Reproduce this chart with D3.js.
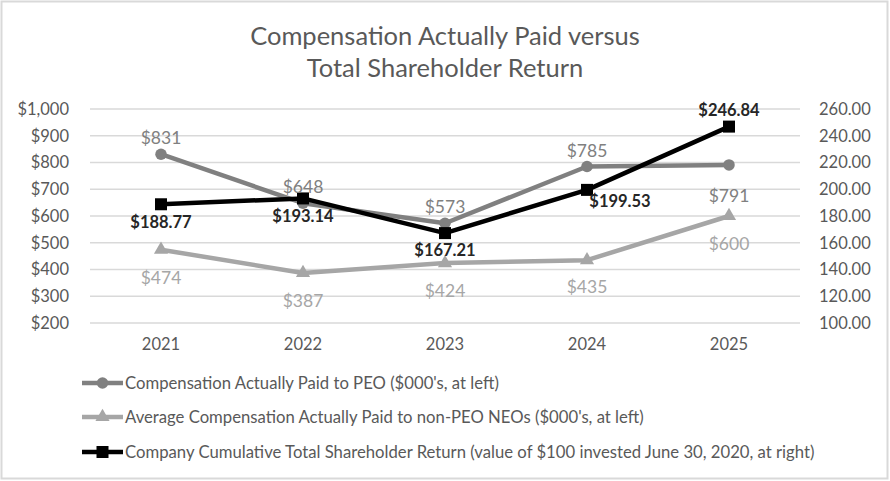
<!DOCTYPE html>
<html>
<head>
<meta charset="utf-8">
<script src="https://cdn.jsdelivr.net/npm/d3@7"></script>
<style>
  body { margin: 0; background: #fff; }
  svg text { font-family: Lato, "Open Sans", sans-serif; }
</style>
</head>
<body>
<svg id="chart" width="890" height="481"></svg>
<script>
// Chart data
const years = ["2021", "2022", "2023", "2024", "2025"];
const peoPay = [831, 648, 573, 785, 791];          // $000's, left axis
const neoPay = [474, 387, 424, 435, 600];          // $000's, left axis
const tsr = [188.77, 193.14, 167.21, 199.53, 246.84]; // right axis
const leftTicks = [200, 300, 400, 500, 600, 700, 800, 900, 1000];
const rightTicks = [100, 120, 140, 160, 180, 200, 220, 240, 260];
const legendNames = [
  "Compensation Actually Paid to PEO ($000's, at left)",
  "Average Compensation Actually Paid to non-PEO NEOs ($000's, at left)",
  "Company Cumulative Total Shareholder Return (value of $100 invested June 30, 2020, at right)"
];

const svg = d3.select('#chart');
const W = 890, H = 481;
const plot = { left: 90, right: 800, top: 109, bottom: 323 };
const FONT = 'Lato, "Open Sans", sans-serif';

// outer frame
svg.append('rect')
    .attr('x', 1.5).attr('y', 1.5)
    .attr('width', W - 4).attr('height', H - 4)
    .attr('fill', 'none')
    .attr('stroke', '#d9d9d9')
    .attr('stroke-width', 2);

// title
svg.append('text')
    .attr('x', 445).attr('y', 45)
    .attr('text-anchor', 'middle')
    .attr('font-size', 25.5)
    .attr('fill', '#595959')
    .selectAll('tspan')
    .data(["Compensation Actually Paid versus", "Total Shareholder Return"])
    .join('tspan')
    .attr('x', 445)
    .attr('dy', (d, i) => i === 0 ? 0 : 32)
    .text(d => d);

const x = d3.scaleBand().domain(years).range([plot.left, plot.right]);
const cx = d => x(d) + x.bandwidth() / 2;
const yL = d3.scaleLinear().domain([200, 1000]).range([plot.bottom, plot.top]);
const yR = d3.scaleLinear().domain([100, 260]).range([plot.bottom, plot.top]);

// gridlines
svg.append('g')
    .selectAll('line')
    .data(leftTicks)
    .join('line')
    .attr('x1', plot.left).attr('x2', plot.right)
    .attr('y1', d => yL(d)).attr('y2', d => yL(d))
    .attr('stroke', '#d9d9d9')
    .attr('stroke-width', 1.5);

// left axis
const leftAxis = svg.append('g')
    .attr('transform', `translate(${plot.left - 21},0)`)
    .call(d3.axisLeft(yL).tickValues(leftTicks).tickSize(0).tickPadding(0)
        .tickFormat(d => '$' + d3.format(',')(d)));
leftAxis.select('.domain').remove();
leftAxis.selectAll('text').attr('font-size', 16.5).attr('fill', '#595959')
    .style('font-family', FONT);

// right axis
const rightAxis = svg.append('g')
    .attr('transform', `translate(${plot.right + 19},0)`)
    .call(d3.axisRight(yR).tickValues(rightTicks).tickSize(0).tickPadding(0)
        .tickFormat(d3.format('.2f')));
rightAxis.select('.domain').remove();
rightAxis.selectAll('text').attr('font-size', 16.5).attr('fill', '#595959')
    .style('font-family', FONT);

// bottom axis
const bottomAxis = svg.append('g')
    .attr('transform', `translate(0,${plot.bottom + 9})`)
    .call(d3.axisBottom(x).tickSize(0).tickPadding(6));
bottomAxis.select('.domain').remove();
bottomAxis.selectAll('text').attr('font-size', 16.5).attr('fill', '#595959')
    .style('font-family', FONT);

const series = [
  { name: legendNames[0], values: peoPay, y: yL, color: '#808080', marker: 'circle',
    labels: peoPay.map(v => '$' + v), bold: false, labelColor: '#808080',
    offs: [[0, -16], [0, -16], [0, -16], [0, -16], [0, 31]] },
  { name: legendNames[1], values: neoPay, y: yL, color: '#a6a6a6', marker: 'triangle',
    labels: neoPay.map(v => '$' + v), bold: false, labelColor: '#a6a6a6',
    offs: [[0, 28], [0, 28], [0, 28], [0, 27], [0, 28]] },
  { name: legendNames[2], values: tsr, y: yR, color: '#000000', marker: 'square',
    labels: tsr.map(v => '$' + v.toFixed(2)), bold: true, labelColor: '#262626',
    offs: [[0, 18], [0, 18], [0, 17], [33, 11], [0, -16]] }
];

function drawMarker(g, type, size, color) {
  if (type === 'circle') {
    g.append('circle').attr('r', size * 0.48).attr('fill', color);
  } else if (type === 'triangle') {
    g.append('path').attr('d', d3.symbol(d3.symbolTriangle, size * size * 0.6)())
        .attr('fill', color);
  } else {
    g.append('rect').attr('x', -size / 2).attr('y', -size / 2)
        .attr('width', size).attr('height', size).attr('fill', color);
  }
}

// lines + markers
series.forEach(s => {
  const line = d3.line().x((d, i) => cx(years[i])).y(d => s.y(d));
  svg.append('path')
      .datum(s.values)
      .attr('d', line)
      .attr('fill', 'none')
      .attr('stroke', s.color)
      .attr('stroke-width', 4.5)
      .attr('stroke-linejoin', 'round');
  s.values.forEach((v, i) => {
    const g = svg.append('g').attr('transform', `translate(${cx(years[i])},${s.y(v)})`);
    drawMarker(g, s.marker, 12, s.color);
  });
});

// data labels
series.forEach(s => {
  svg.append('g')
      .selectAll('text')
      .data(s.values)
      .join('text')
      .attr('x', (d, i) => cx(years[i]) + s.offs[i][0])
      .attr('y', (d, i) => s.y(d) + s.offs[i][1])
      .attr('dy', '0.35em')
      .attr('text-anchor', 'middle')
      .attr('font-size', s.bold ? 16.5 : 17.5)
      .attr('font-weight', s.bold ? 'bold' : 'normal')
      .attr('fill', s.labelColor)
      .text((d, i) => s.labels[i]);
});

// legend
const legend = svg.append('g');
series.forEach((s, i) => {
  const ly = [383, 417, 452][i];
  const g = legend.append('g').attr('transform', `translate(0,${ly})`);
  g.append('line')
      .attr('x1', 82).attr('x2', 123)
      .attr('stroke', s.color).attr('stroke-width', 4.5);
  const m = g.append('g').attr('transform', 'translate(102.5,0)');
  drawMarker(m, s.marker, 12, s.color);
  g.append('text')
      .attr('x', 125).attr('dy', '0.35em')
      .attr('font-size', 16.7)
      .attr('fill', '#595959')
      .text(s.name);
});
</script>
</body>
</html>
